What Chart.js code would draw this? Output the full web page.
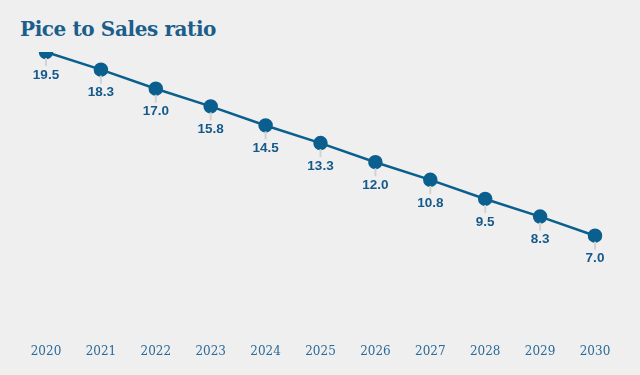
<!DOCTYPE html>
<html>
<head>
<meta charset="utf-8">
<script src="https://cdn.jsdelivr.net/npm/chart.js@4"></script>
<style>
  body { margin: 0; background: #efefef; }
  #wrap { position: relative; width: 640px; height: 375px; }
  h1 {
    position: absolute; left: 20px; top: 17px; margin: 0;
    font: bold 20px "DejaVu Serif", "Liberation Serif", serif;
    color: #1b5e8c; letter-spacing: -0.4px;
  }
  canvas { position: absolute; left: 0; top: 0; }
</style>
</head>
<body>
<div id="wrap">
  <h1>Pice to Sales ratio</h1>
  <canvas id="chart" width="640" height="375"></canvas>
</div>
<script>
// years on the x axis
const years = ["2020", "2021", "2022", "2023", "2024", "2025", "2026", "2027", "2028", "2029", "2030"];
// price to sales ratio per year
const ratio = [19.5, 18.3, 17.0, 15.8, 14.5, 13.3, 12.0, 10.8, 9.5, 8.3, 7.0];

const blue = "#0b5f8e";

// value labels under each point, with a small grey stem
const pointLabels = {
  id: "pointLabels",
  afterDatasetsDraw(chart) {
    const ctx = chart.ctx;
    const meta = chart.getDatasetMeta(0);
    ctx.save();
    meta.data.forEach((pt, i) => {
      ctx.strokeStyle = "#d3d3d3";
      ctx.lineWidth = 2;
      ctx.beginPath();
      ctx.moveTo(pt.x, pt.y + 6);
      ctx.lineTo(pt.x, pt.y + 14);
      ctx.stroke();
      ctx.fillStyle = "#15598a";
      ctx.font = "bold 13.5px 'Liberation Sans', Arial, sans-serif";
      ctx.textAlign = "center";
      ctx.textBaseline = "middle";
      ctx.fillText(ratio[i].toFixed(1), pt.x, pt.y + 23);
    });
    ctx.restore();
  }
};

new Chart(document.getElementById("chart"), {
  type: "line",
  data: {
    labels: years,
    datasets: [{
      data: ratio,
      borderColor: blue,
      backgroundColor: blue,
      borderWidth: 2.5,
      pointRadius: 6,
      pointHoverRadius: 6,
      tension: 0
    }]
  },
  options: {
    responsive: false,
    animation: false,
    layout: { padding: { left: 46, right: 45, top: 52, bottom: 10 } },
    plugins: {
      legend: { display: false },
      tooltip: { enabled: false }
    },
    scales: {
      x: {
        offset: false,
        grid: { display: false, drawTicks: false },
        border: { display: false },
        ticks: {
          color: "#2a6a98",
          padding: 6,
          maxRotation: 0,
          font: { family: "'DejaVu Serif', 'Liberation Serif', serif", size: 12 }
        }
      },
      y: {
        display: false,
        min: 0,
        max: 19.5
      }
    }
  },
  plugins: [pointLabels]
});
</script>
</body>
</html>
